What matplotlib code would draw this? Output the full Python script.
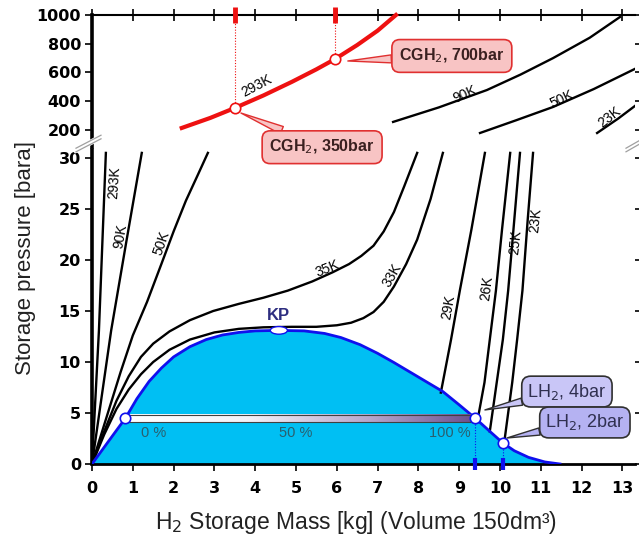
import numpy as np
import matplotlib
matplotlib.use('Agg')
import matplotlib.pyplot as plt
from matplotlib.lines import Line2D
from matplotlib.colors import LinearSegmentedColormap
from matplotlib.patches import Rectangle, Ellipse

plt.rcParams['font.family'] = ['Liberation Sans', 'DejaVu Sans']

# ---------------- data ----------------
x_ticks = list(range(0, 14))
y_ticks_low = [0, 5, 10, 15, 20, 25, 30]
y_ticks_up = [200, 400, 600, 800, 1000]

# two-phase dome (mass kg, pressure bar)
dome_m = [0, 0.4, 0.82, 1.1, 1.4, 1.7, 2.0, 2.4, 2.8, 3.2, 3.6, 4.0, 4.58, 5.2, 5.7, 6.1,
          6.57, 7.0, 7.4, 7.8, 8.2, 8.6, 9.0, 9.39, 9.75, 10.07, 10.35, 10.7, 11.1, 11.47]
dome_p = [0, 2.2, 4.5, 6.4, 8.1, 9.4, 10.5, 11.5, 12.2, 12.65, 12.9, 13.05, 13.1, 13.05, 12.8,
          12.4, 11.7, 10.85, 9.95, 9.0, 8.05, 7.1, 5.8, 4.5, 3.2, 2.06, 1.3, 0.65, 0.2, 0.0]

# lower-panel isotherms
t293_m = [0, 0.17, 0.34]
t293_p = [0, 13.1, 30.5]
t90_m = [0, 0.47, 0.85, 1.22]
t90_p = [0, 13.1, 22.0, 30.5]
t50_m = [0, 0.35, 0.7, 1.0, 1.35, 1.7, 2.0, 2.3, 2.6, 2.84]
t50_p = [0, 4.5, 9.0, 12.6, 15.9, 19.6, 22.8, 25.8, 28.4, 30.5]
t35_m = [0, 0.3, 0.6, 0.9, 1.2, 1.5, 1.9, 2.4, 2.97, 3.6, 4.2, 4.8, 5.4, 5.9, 6.3, 6.6,
         6.9, 7.15, 7.4, 7.65, 7.97]
t35_p = [0, 3.2, 6.2, 8.6, 10.5, 11.8, 13.0, 14.1, 15.0, 15.7, 16.3, 17.0, 17.9, 18.8, 19.6,
         20.4, 21.4, 22.8, 24.7, 27.2, 30.5]
t33_m = [0, 0.3, 0.6, 0.9, 1.2, 1.5, 1.9, 2.4, 3.0, 3.6, 4.2, 4.9, 5.5, 6.0, 6.35, 6.65,
         6.9, 7.15, 7.4, 7.7, 7.97, 8.3, 8.6]
t33_p = [0, 2.9, 5.4, 7.3, 8.8, 10.0, 11.2, 12.2, 12.9, 13.25, 13.4, 13.45, 13.45, 13.6,
         13.85, 14.3, 14.9, 15.9, 17.4, 19.6, 22.0, 26.0, 30.5]
t29_m = [8.55, 8.8, 9.02, 9.3, 9.63]
t29_p = [7.0, 12.2, 17.1, 23.0, 30.5]
t26_m = [9.45, 9.62, 9.75, 9.9, 10.05, 10.25]
t26_p = [4.3, 8.0, 12.2, 17.0, 23.0, 30.5]
t25_m = [9.75, 9.92, 10.07, 10.2, 10.33, 10.49]
t25_p = [3.2, 8.0, 12.2, 17.0, 23.0, 30.5]
t23_m = [10.1, 10.3, 10.42, 10.55, 10.68, 10.81]
t23_p = [2.0, 8.0, 12.2, 17.0, 24.0, 30.5]

# upper-panel isotherms
c293_m = [2.2, 2.9, 3.5, 4.2, 4.9, 5.5, 5.96, 6.5, 7.0, 7.45]
c293_p = [214, 284, 353, 440, 535, 622, 694, 791, 891, 1000]
u90_m = [7.38, 8.5, 9.68, 10.5, 11.3, 12.2, 12.94]
u90_p = [256, 357, 478, 585, 700, 842, 986]
u50_m = [9.51, 10.4, 11.3, 12.3, 13.4]
u50_p = [179, 268, 360, 485, 638]
u23_m = [12.38, 12.9, 13.4]
u23_p = [179, 280, 387]

# storage points
cgh_m = [3.5, 5.96]
cgh_p = [353, 694]
lh_m = [9.39, 10.07]
lh_p = [4.5, 2.06]
kp_m, kp_p = 4.58, 13.1

# ---------------- figure ----------------
W, H = 639, 542
fig = plt.figure(figsize=(W / 100, H / 100), dpi=100)

def fx(px):
    return px / W

def fy(py):
    return 1 - py / H

XMAX = 13.3
low_top_py = 150
ax = fig.add_axes([fx(92), fy(464), fx(92 + XMAX * 40.8) - fx(92), fy(low_top_py) - fy(464)])
axu = fig.add_axes([fx(92), fy(146.5), fx(92 + XMAX * 40.8) - fx(92), fy(15) - fy(146.5)])
axu.set_zorder(3)
axu.patch.set_alpha(0)

YMAX_LOW = (464 - low_top_py) / 10.2

tick_font = dict(family='DejaVu Sans', weight='bold', size=11.5)

# lower axes styling
for s in ['top', 'right']:
    ax.spines[s].set_visible(False)
ax.spines['left'].set_linewidth(2.6)
ax.spines['bottom'].set_linewidth(2.0)
ax.set_xticks(x_ticks)
ax.set_xticklabels([str(v) for v in x_ticks], fontdict=tick_font)
ax.set_yticks(y_ticks_low)
ax.set_yticklabels([str(v) for v in y_ticks_low], fontdict=tick_font)
ax.tick_params(axis='x', direction='out', length=5, width=1.2, pad=7)
ax.tick_params(axis='y', direction='out', length=5, width=1.2, pad=3, right=True)

# upper axes styling
for s in ['bottom', 'right']:
    axu.spines[s].set_visible(False)
axu.spines['left'].set_linewidth(2.6)
axu.spines['top'].set_linewidth(1.5)
axu.set_xticks(x_ticks)
axu.xaxis.tick_top()
axu.set_xticklabels([])
axu.tick_params(axis='x', direction='inout', length=9, width=1.2, top=True, bottom=False)
axu.set_yticks(y_ticks_up)
axu.set_yticklabels([str(v) for v in y_ticks_up], fontdict=tick_font)
axu.tick_params(axis='y', direction='out', length=5, width=1.2, pad=3, right=True)

# ---------------- lower panel ----------------
ax.fill_between(dome_m, dome_p, 0, color='#00BFF3', zorder=1, lw=0)
ax.plot(dome_m, dome_p, color='#1010ee', lw=2, zorder=4, solid_joinstyle='round')

for m, p in [(t293_m, t293_p), (t90_m, t90_p), (t50_m, t50_p), (t35_m, t35_p),
             (t33_m, t33_p), (t29_m, t29_p), (t26_m, t26_p), (t25_m, t25_p), (t23_m, t23_p)]:
    ax.plot(m, p, color='black', lw=1.7, zorder=3, clip_on=False, solid_joinstyle='round')

lab_kw = dict(fontsize=10, color='black', ha='center', va='center', zorder=5)
ax.text(0.55, 27.6, '293K', rotation=86, **lab_kw)
ax.text(0.70, 22.3, '90K', rotation=80, **lab_kw)
ax.text(1.70, 21.7, '50K', rotation=71, **lab_kw)
ax.text(5.76, 19.2, '35K', rotation=22, **lab_kw)
ax.text(7.36, 18.5, '33K', rotation=60, **lab_kw)
ax.text(8.74, 15.4, '29K', rotation=80, **lab_kw)
ax.text(9.68, 17.2, '26K', rotation=83, **lab_kw)
ax.text(10.37, 21.7, '25K', rotation=84, **lab_kw)
ax.text(10.88, 23.9, '23K', rotation=84, **lab_kw)

# gradient bar between 0% and 100%
cmap = LinearSegmentedColormap.from_list('g', [(0, 'white'), (0.35, '#f4f2f8'),
                                               (0.7, '#b7a6cc'), (1, '#6a4f8e')])
grad = np.linspace(0, 1, 256).reshape(1, -1)
ax.imshow(grad, extent=[0.82, lh_m[0], 4.15, 4.85], aspect='auto',
          cmap=cmap, zorder=5, interpolation='bicubic')
ax.add_patch(Rectangle((0.82, 4.15), lh_m[0] - 0.82, 0.7, fill=False, ec='#404040',
                       lw=0.8, zorder=6))
ax.set_xlim(0, XMAX)
ax.set_ylim(0, YMAX_LOW)
axu.set_xlim(0, XMAX)
axu.set_ylim(85, 1000)

pct_kw = dict(fontsize=10.5, color='#2a5f6e', ha='center', va='center', zorder=7)
ax.text(1.5, 3.0, '0 %', **pct_kw)
ax.text(5.0, 3.0, '50 %', **pct_kw)
ax.text(8.77, 3.0, '100 %', **pct_kw)

# points
ax.plot([0.82], [4.5], 'o', ms=7.5, mfc='white', mec='#1010ee', mew=1.2, zorder=8)
ax.plot(lh_m, lh_p, 'o', ms=7.5, mfc='white', mec='#1010ee', mew=1.2, zorder=8)
for m, p in zip(lh_m, lh_p):
    ax.plot([m, m], [0, p], color='#1010ee', lw=0.8, ls=(0, (1, 1.5)), zorder=7)
    ax.plot([m], [0], marker='|', ms=9, mew=3, color='#1010ee', zorder=9, clip_on=False)

# KP
ax.add_patch(Ellipse((kp_m, kp_p), 0.42, 0.75, fc='white', ec='#1010ee', lw=1, zorder=8))
ax.text(kp_m, 14.6, 'KP', fontsize=12, fontweight='bold', color='#2e2e80',
        ha='center', va='center', zorder=8)

# LH2 callouts
lh_box = dict(boxstyle='round,pad=0.3,rounding_size=0.5', fc='#c9c6f7', ec='#303030', lw=1.2)
ax.annotate('LH$_2$, 4bar', xy=(9.63, 5.3), xytext=(11.64, 7.1), fontsize=13,
            color='#303050', ha='center', va='center', zorder=10, annotation_clip=False,
            bbox=lh_box,
            arrowprops=dict(arrowstyle='wedge,tail_width=0.4', fc='#c9c6f7', ec='#303030',
                            lw=1, shrinkA=0, shrinkB=0))
ax.annotate('LH$_2$, 2bar', xy=(10.17, 2.55), xytext=(12.08, 4.07), fontsize=13,
            color='#303050', ha='center', va='center', zorder=10, annotation_clip=False,
            bbox=dict(lh_box, fc='#b5b2f2'),
            arrowprops=dict(arrowstyle='wedge,tail_width=0.4', fc='#b5b2f2', ec='#303030',
                            lw=1, shrinkA=0, shrinkB=0))

# ---------------- upper panel ----------------
axu.plot(c293_m, c293_p, color='#ee1111', lw=3, zorder=3, clip_on=False,
         solid_joinstyle='round')
for m, p in [(u90_m, u90_p), (u50_m, u50_p), (u23_m, u23_p)]:
    axu.plot(m, p, color='black', lw=1.7, zorder=3, solid_joinstyle='round')

axu.text(4.04, 505, '293K', rotation=28, **lab_kw)
axu.text(9.14, 447, '90K', rotation=24, **lab_kw)
axu.text(11.52, 412, '50K', rotation=25, **lab_kw)
axu.text(12.68, 288, '23K', rotation=38, **lab_kw)

for m, p in zip(cgh_m, cgh_p):
    axu.plot([m, m], [p, 1000], color='#ee1111', lw=0.8, ls=(0, (1, 1.5)), zorder=4)
    axu.plot([m], [1000], marker='|', ms=11, mew=3.5, color='#ee1111', zorder=9,
             clip_on=False)
axu.plot(cgh_m, cgh_p, 'o', ms=7.5, mfc='white', mec='#ee1111', mew=1.2, zorder=8)

cg_box = dict(boxstyle='round,pad=0.45,rounding_size=0.5', fc='#f8c4c4', ec='#e03030', lw=1.2)
axu.annotate('CGH$_2$, 700bar', xy=(6.27, 680), xytext=(8.82, 715), fontsize=11.5,
             fontweight='bold', color='#3a2020', ha='center', va='center', zorder=10,
             annotation_clip=False, bbox=cg_box,
             arrowprops=dict(arrowstyle='wedge,tail_width=0.5', fc='#f8c4c4', ec='#e03030',
                             lw=1, shrinkA=0, shrinkB=0))
axu.annotate('CGH$_2$, 350bar', xy=(3.65, 318), xytext=(5.64, 80), fontsize=11.5,
             fontweight='bold', color='#3a2020', ha='center', va='center', zorder=10,
             annotation_clip=False, bbox=cg_box,
             arrowprops=dict(arrowstyle='wedge,tail_width=0.5', fc='#f8c4c4', ec='#e03030',
                             lw=1, shrinkA=0, shrinkB=0))

# axis break marks
for (x0, y0, x1, y1) in [(76, 150, 101, 137), (626, 150, 640, 142)]:
    fig.add_artist(Line2D([fx(x0), fx(x1)], [fy(y0), fy(y1)], color='white', lw=4, zorder=20))
    fig.add_artist(Line2D([fx(x0), fx(x1)], [fy(y0 + 1.8), fy(y1 + 1.8)], color='#a0a0a0',
                          lw=0.9, zorder=21))
    fig.add_artist(Line2D([fx(x0), fx(x1)], [fy(y0 - 1.8), fy(y1 - 1.8)], color='#a0a0a0',
                          lw=0.9, zorder=21))

# axis labels
fig.text(fx(26), fy(258), 'Storage pressure [bara]', rotation=90, fontsize=16,
         ha='center', va='center', color='#222222')
fig.text(fx(356), fy(523), 'H$_2$ Storage Mass [kg] (Volume 150dm³)', fontsize=16.5,
         ha='center', va='center', color='#222222')

fig.savefig('out.png', dpi=100)
